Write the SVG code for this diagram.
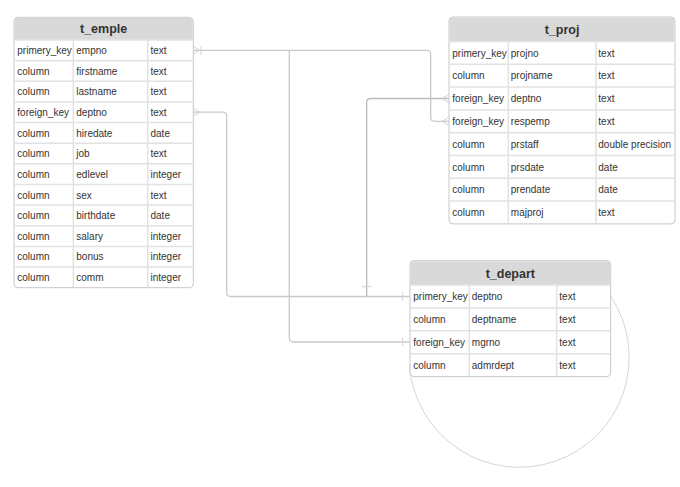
<svg xmlns="http://www.w3.org/2000/svg" width="680" height="487" viewBox="0 0 680 487">
<style>
.box{fill:#fff;stroke:#c8c8c8;stroke-width:1}
.hdr{fill:#d9d9d9}
.sep{stroke:#e2e2e2;stroke-width:1.5}
.title{font-family:"Liberation Sans",Arial,sans-serif;font-size:12.5px;font-weight:bold;fill:#333;text-anchor:middle}
.cell{font-family:"Liberation Sans",Arial,sans-serif;font-size:10px;fill:#333}
.conn{fill:none;stroke:#cacaca;stroke-width:1.3}
.conn2{fill:none;stroke:#bcbcbc;stroke-width:1.3}
.mark{fill:none;stroke:#d2d2d2;stroke-width:1}
.loop{fill:none;stroke:#d6d6d6;stroke-width:1}
</style>
<rect width="680" height="487" fill="#fff"/>

<g id="connectors">
  <path class="conn" d="M193.3,50.3 H426.7 Q430.7,50.3 430.7,54.3 V117.3 Q430.7,121.3 434.7,121.3 H449"/>
  <path class="conn" d="M289.3,50.3 V338 Q289.3,342 293.3,342 H410"/>
  <path class="conn" d="M193.3,112.2 H222.7 Q226.7,112.2 226.7,116.2 V292.5 Q226.7,296.5 230.7,296.5 H410"/>
  <path class="conn2" d="M449,98.5 H370.7 Q366.7,98.5 366.7,102.5 V296.5"/>
  <path class="loop" d="M610.9,296.5 A110,110 0 1 1 409.5,365.2"/>
  <!-- markers -->
  <path class="mark" d="M193.3,46.5 L199.5,50.3 L193.3,54.1 M201,46 V54.6"/>
  <path class="mark" d="M193.3,108.4 L199.5,112.2 L193.3,116"/>
  <path class="mark" d="M449,117.3 L442,121.3 L449,125.3"/>
  <path class="mark" d="M449,94.5 L442,98.5 L449,102.5"/>
  <path class="mark" d="M362,286.7 H371.4"/>
  <path class="mark" d="M402.7,292.2 V300.8"/>
  <path class="mark" d="M402.7,337.7 V346.3"/>
</g>

<g id="t_emple">
  <rect class="box" x="14" y="17.3" width="179.3" height="270.4" rx="4"/>
  <path class="hdr" d="M14.5,40 V21.3 Q14.5,17.8 18,17.8 H189.3 Q192.8,17.8 192.8,21.3 V40 Z"/>
  <text class="title" x="103.6" y="33">t_emple</text>
  <g>
    <line class="sep" x1="14.5" y1="40" x2="192.8" y2="40"/>
    <line class="sep" x1="14.5" y1="60.64" x2="192.8" y2="60.64"/>
    <line class="sep" x1="14.5" y1="81.28" x2="192.8" y2="81.28"/>
    <line class="sep" x1="14.5" y1="101.92" x2="192.8" y2="101.92"/>
    <line class="sep" x1="14.5" y1="122.56" x2="192.8" y2="122.56"/>
    <line class="sep" x1="14.5" y1="143.2" x2="192.8" y2="143.2"/>
    <line class="sep" x1="14.5" y1="163.84" x2="192.8" y2="163.84"/>
    <line class="sep" x1="14.5" y1="184.48" x2="192.8" y2="184.48"/>
    <line class="sep" x1="14.5" y1="205.12" x2="192.8" y2="205.12"/>
    <line class="sep" x1="14.5" y1="225.76" x2="192.8" y2="225.76"/>
    <line class="sep" x1="14.5" y1="246.4" x2="192.8" y2="246.4"/>
    <line class="sep" x1="14.5" y1="267.04" x2="192.8" y2="267.04"/>
    <line class="sep" x1="73.3" y1="40" x2="73.3" y2="287.2"/>
    <line class="sep" x1="147.7" y1="40" x2="147.7" y2="287.2"/>
  </g>
  <g class="cell">
    <text x="17.3" y="54">primery_key</text><text x="76.3" y="54">empno</text><text x="150.5" y="54">text</text>
    <text x="17.3" y="74.6">column</text><text x="76.3" y="74.6">firstname</text><text x="150.5" y="74.6">text</text>
    <text x="17.3" y="95.3">column</text><text x="76.3" y="95.3">lastname</text><text x="150.5" y="95.3">text</text>
    <text x="17.3" y="115.9">foreign_key</text><text x="76.3" y="115.9">deptno</text><text x="150.5" y="115.9">text</text>
    <text x="17.3" y="136.6">column</text><text x="76.3" y="136.6">hiredate</text><text x="150.5" y="136.6">date</text>
    <text x="17.3" y="157.2">column</text><text x="76.3" y="157.2">job</text><text x="150.5" y="157.2">text</text>
    <text x="17.3" y="177.8">column</text><text x="76.3" y="177.8">edlevel</text><text x="150.5" y="177.8">integer</text>
    <text x="17.3" y="198.5">column</text><text x="76.3" y="198.5">sex</text><text x="150.5" y="198.5">text</text>
    <text x="17.3" y="219.1">column</text><text x="76.3" y="219.1">birthdate</text><text x="150.5" y="219.1">date</text>
    <text x="17.3" y="239.8">column</text><text x="76.3" y="239.8">salary</text><text x="150.5" y="239.8">integer</text>
    <text x="17.3" y="260.4">column</text><text x="76.3" y="260.4">bonus</text><text x="150.5" y="260.4">integer</text>
    <text x="17.3" y="281">column</text><text x="76.3" y="281">comm</text><text x="150.5" y="281">integer</text>
  </g>
</g>

<g id="t_proj">
  <rect class="box" x="449" y="17" width="226" height="206.9" rx="4"/>
  <path class="hdr" d="M449.5,41.5 V21 Q449.5,17.5 453,17.5 H671 Q674.5,17.5 674.5,21 V41.5 Z"/>
  <text class="title" x="562" y="34">t_proj</text>
  <g>
    <line class="sep" x1="449.5" y1="41.5" x2="674.5" y2="41.5"/>
    <line class="sep" x1="449.5" y1="64.3" x2="674.5" y2="64.3"/>
    <line class="sep" x1="449.5" y1="87.1" x2="674.5" y2="87.1"/>
    <line class="sep" x1="449.5" y1="109.9" x2="674.5" y2="109.9"/>
    <line class="sep" x1="449.5" y1="132.7" x2="674.5" y2="132.7"/>
    <line class="sep" x1="449.5" y1="155.5" x2="674.5" y2="155.5"/>
    <line class="sep" x1="449.5" y1="178.3" x2="674.5" y2="178.3"/>
    <line class="sep" x1="449.5" y1="201.1" x2="674.5" y2="201.1"/>
    <line class="sep" x1="508.3" y1="41.5" x2="508.3" y2="223.4"/>
    <line class="sep" x1="596" y1="41.5" x2="596" y2="223.4"/>
  </g>
  <g class="cell">
    <text x="452.3" y="56.5">primery_key</text><text x="510.8" y="56.5">projno</text><text x="598.3" y="56.5">text</text>
    <text x="452.3" y="79.3">column</text><text x="510.8" y="79.3">projname</text><text x="598.3" y="79.3">text</text>
    <text x="452.3" y="102.1">foreign_key</text><text x="510.8" y="102.1">deptno</text><text x="598.3" y="102.1">text</text>
    <text x="452.3" y="124.9">foreign_key</text><text x="510.8" y="124.9">respemp</text><text x="598.3" y="124.9">text</text>
    <text x="452.3" y="147.7">column</text><text x="510.8" y="147.7">prstaff</text><text x="598.3" y="147.7">double precision</text>
    <text x="452.3" y="170.5">column</text><text x="510.8" y="170.5">prsdate</text><text x="598.3" y="170.5">date</text>
    <text x="452.3" y="193.3">column</text><text x="510.8" y="193.3">prendate</text><text x="598.3" y="193.3">date</text>
    <text x="452.3" y="216.1">column</text><text x="510.8" y="216.1">majproj</text><text x="598.3" y="216.1">text</text>
  </g>
</g>

<g id="t_depart">
  <rect class="box" x="410" y="260.7" width="200.7" height="115.9" rx="4"/>
  <path class="hdr" d="M410.5,285 V264.7 Q410.5,261.2 414,261.2 H606.7 Q610.2,261.2 610.2,264.7 V285 Z"/>
  <text class="title" x="510.3" y="277.5">t_depart</text>
  <g>
    <line class="sep" x1="410.5" y1="285" x2="610.2" y2="285"/>
    <line class="sep" x1="410.5" y1="307.9" x2="610.2" y2="307.9"/>
    <line class="sep" x1="410.5" y1="330.8" x2="610.2" y2="330.8"/>
    <line class="sep" x1="410.5" y1="353.7" x2="610.2" y2="353.7"/>
    <line class="sep" x1="469.3" y1="285" x2="469.3" y2="376.1"/>
    <line class="sep" x1="556.7" y1="285" x2="556.7" y2="376.1"/>
  </g>
  <g class="cell">
    <text x="413.3" y="300">primery_key</text><text x="471.8" y="300">deptno</text><text x="559.3" y="300">text</text>
    <text x="413.3" y="322.9">column</text><text x="471.8" y="322.9">deptname</text><text x="559.3" y="322.9">text</text>
    <text x="413.3" y="345.8">foreign_key</text><text x="471.8" y="345.8">mgrno</text><text x="559.3" y="345.8">text</text>
    <text x="413.3" y="368.7">column</text><text x="471.8" y="368.7">admrdept</text><text x="559.3" y="368.7">text</text>
  </g>
</g>
</svg>
